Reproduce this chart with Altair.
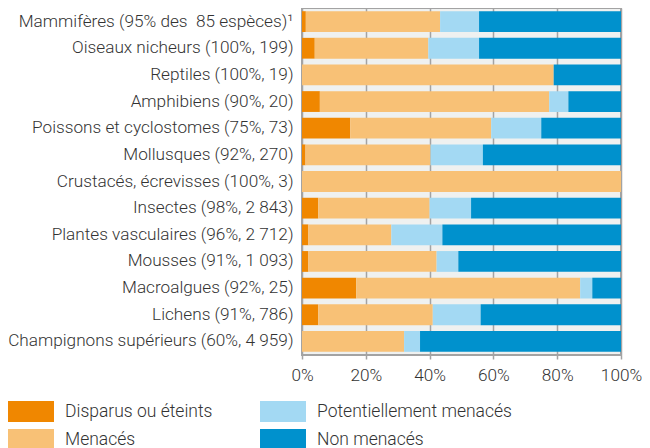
import altair as alt
import pandas as pd

categories = [
    "Mammifères (95% des \u00a085 espèces)¹",
    "Oiseaux nicheurs (100%, 199)",
    "Reptiles (100%, 19)",
    "Amphibiens (90%, 20)",
    "Poissons et cyclostomes (75%, 73)",
    "Mollusques (92%, 270)",
    "Crustacés, écrevisses (100%, 3)",
    "Insectes (98%, 2 843)",
    "Plantes vasculaires (96%, 2 712)",
    "Mousses (91%, 1 093)",
    "Macroalgues (92%, 25)",
    "Lichens (91%, 786)",
    "Champignons supérieurs (60%, 4 959)",
]
disparus = [1.2, 4.0, 0, 5.6, 15.1, 1.1, 0, 5.1, 2.0, 2.0, 17.0, 5.1, 0]
menaces = [42.1, 35.6, 78.9, 71.9, 44.2, 39.2, 100, 34.9, 26.0, 40.2, 70.2, 35.9, 32.0]
potentiellement = [12.2, 15.9, 0, 6.0, 15.7, 16.4, 0, 13.0, 16.0, 6.8, 3.8, 15.0, 5.0]
non_menaces = [44.5, 44.5, 21.1, 16.5, 25.0, 43.3, 0, 47.0, 56.0, 51.0, 9.0, 44.0, 63.0]

series = ["Disparus ou éteints", "Menacés", "Potentiellement menacés", "Non menacés"]
colors = {"Disparus ou éteints": "#f08700", "Menacés": "#f8c176",
          "Potentiellement menacés": "#a3d9f3", "Non menacés": "#0091cd"}
x_ticks = [0, 20, 40, 60, 80, 100]

rows = []
for i, c in enumerate(categories):
    for k, (s, vals) in enumerate(zip(series, [disparus, menaces, potentiellement, non_menaces])):
        rows.append({"cat": c, "serie": s, "val": vals[i], "rank": k})
df = pd.DataFrame(rows)

legend_order = ["Disparus ou éteints", "Potentiellement menacés", "Menacés", "Non menacés"]

FONT = "Roboto"
TXT = "#333333"
FS = 17.5

chart = alt.Chart(df).mark_bar().encode(
    y=alt.Y("cat:N", sort=categories,
            scale=alt.Scale(paddingInner=0.22, paddingOuter=0.12),
            axis=alt.Axis(title=None, ticks=False, domain=False, labelPadding=9,
                          labelLimit=400, labelFontSize=17.2, labelFont=FONT,
                          labelFontWeight=300, labelColor=TXT, grid=False)),
    x=alt.X("val:Q", stack="zero", scale=alt.Scale(domain=[0, 100], nice=False),
            axis=alt.Axis(title=None, values=x_ticks, labelExpr="datum.value + '%'",
                          grid=True, gridColor="#a3a3a3", gridWidth=1.5,
                          domain=False, tickColor="#a3a3a3", tickSize=4, tickWidth=1.5,
                          labelFontSize=17.2, labelFont=FONT, labelFontWeight=300,
                          labelColor=TXT, labelPadding=7, labelFlush=False)),
    color=alt.Color("serie:N",
                    scale=alt.Scale(domain=legend_order, range=[colors[s] for s in legend_order]),
                    legend=alt.Legend(title=None, orient="none", legendX=-281.5, legendY=393,
                                      columns=2, direction="horizontal",
                                      symbolType="M-2.19,-1L2.19,-1L2.19,1L-2.19,1Z",
                                      symbolSize=441, symbolStrokeWidth=0,
                                      labelOffset=23.5, labelFontSize=FS, labelFont=FONT,
                                      labelFontWeight=300, labelColor=TXT,
                                      columnPadding=47, rowPadding=7, padding=0,
                                      labelLimit=400)),
    order=alt.Order("rank:Q"),
).properties(
    width=319, height=347,
    autosize=alt.AutoSizeParams(type="none"),
    padding={"left": 294, "top": 0, "right": 21, "bottom": 93},
).configure_view(
    fill="#eff1f0", stroke="#a3a3a3", strokeWidth=2
)

chart.save("out.html", embed_options={"renderer": "svg", "actions": False})
